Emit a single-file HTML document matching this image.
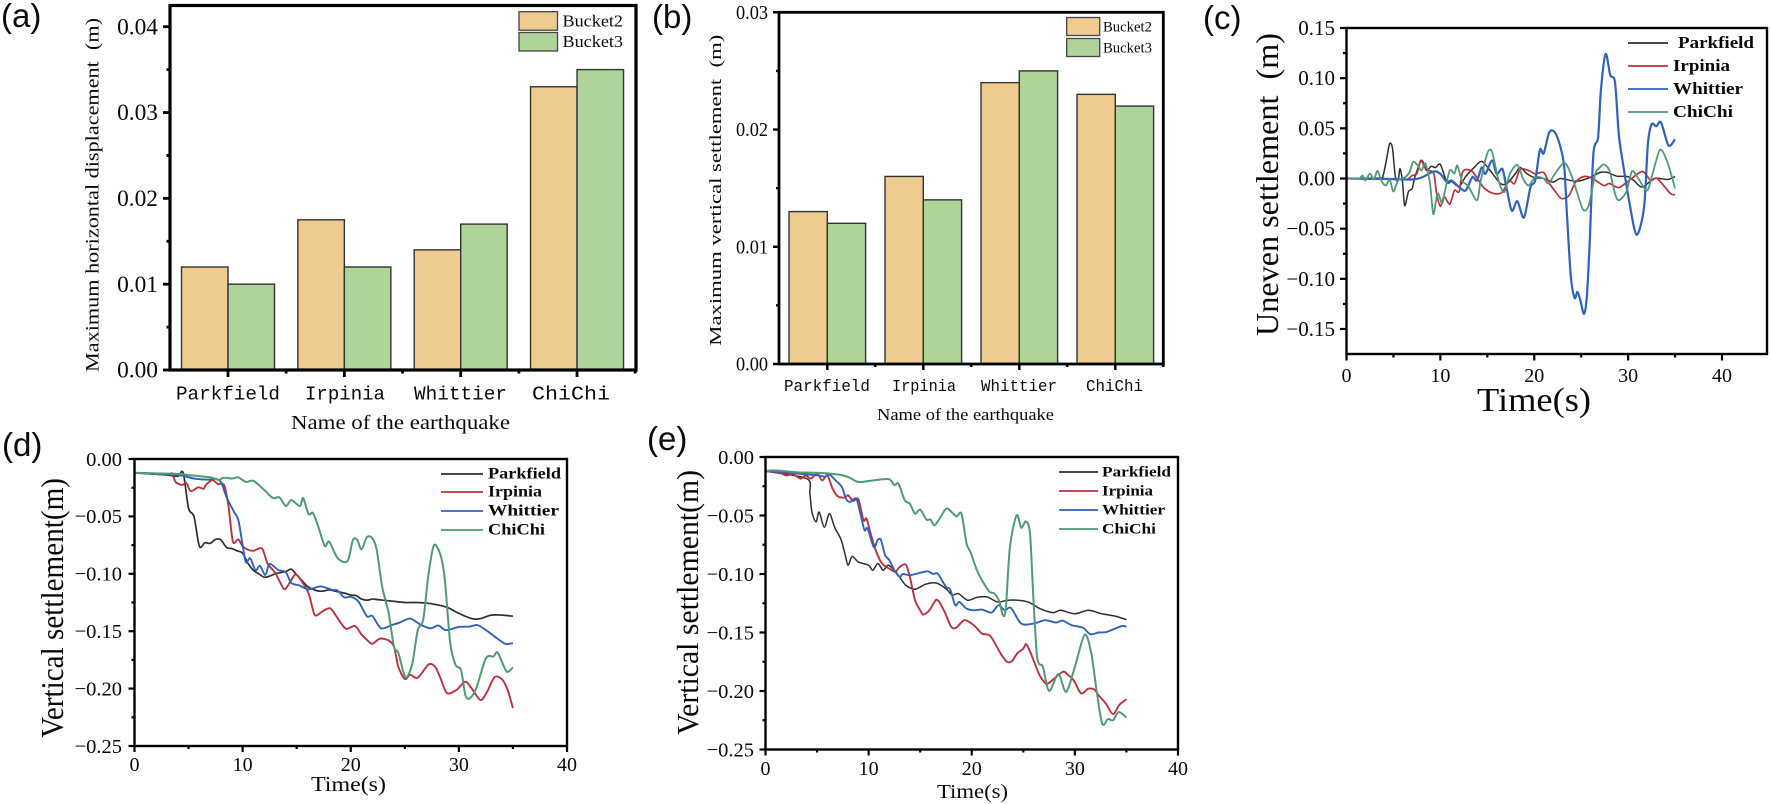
<!DOCTYPE html>
<html lang="en">
<head>
<meta charset="utf-8">
<title>Earthquake settlement charts</title>
<style>
html,body{margin:0;padding:0;background:#fff;}
body{width:1772px;height:804px;overflow:hidden;}
svg{display:block;filter:blur(0.35px);}
text{font-family:"Liberation Serif",serif;fill:#0a0a0a;}
</style>
</head>
<body>
<svg id="figure" xmlns="http://www.w3.org/2000/svg" width="1772" height="804" viewBox="0 0 1772 804"></svg>
<script>
/* ---------- bar chart data (metres) ---------- */
const barCategories = ['Parkfield', 'Irpinia', 'Whittier', 'ChiChi'];
const aBucket2 = [0.012, 0.0175, 0.014, 0.033];
const aBucket3 = [0.010, 0.012, 0.017, 0.035];
const bBucket2 = [0.013, 0.016, 0.024, 0.023];
const bBucket3 = [0.012, 0.014, 0.025, 0.022];
const aYTicks = [0, 0.01, 0.02, 0.03, 0.04];
const aYLabels = ['0.00', '0.01', '0.02', '0.03', '0.04'];
const aYMinor = [0.005, 0.015, 0.025, 0.035];
const bYTicks = [0, 0.01, 0.02, 0.03];
const bYLabels = ['0.00', '0.01', '0.02', '0.03'];
const bYMinor = [0.005, 0.015, 0.025];

/* ---------- shared line chart axis labels ---------- */
const seriesNames = ['Parkfield', 'Irpinia', 'Whittier', 'ChiChi'];
const timeTicks = [0, 10, 20, 30, 40];
const timeMinor = [5, 15, 25, 35];
const cYTicks = [0.15, 0.10, 0.05, 0, -0.05, -0.10, -0.15];
const cYLabels = ['0.15', '0.10', '0.05', '0.00', '\u22120.05', '\u22120.10', '\u22120.15'];
const cYMinor = [0.125, 0.075, 0.025, -0.025, -0.075, -0.125];
const settleYTicks = [0, -0.05, -0.10, -0.15, -0.20, -0.25];
const settleYLabels = ['0.00', '\u22120.05', '\u22120.10', '\u22120.15', '\u22120.20', '\u22120.25'];
const settleYMinor = [-0.025, -0.075, -0.125, -0.175, -0.225];

/* ---------- (c) uneven settlement, millimetres ---------- */
const cParkfieldT = [0,3.5,3.9,4.3,4.6, 4.9,5.2,5.5,5.7,5.95, 6.2,6.6,7,7.3,8, 8.5,9,9.5,10,10.7, 11.2,12,12.7,13.6,14.4, 15.3,16.4,17.1,18,18.5, 19.2,20,21,22,22.8, 24.2,25,26,27,27.8, 28.8,29.9,30.6,31.5,32.8, 34.2,35];
const cParkfieldV = [0,0.5,3,21,35, 30,2,-2,10,-2, -27,-13,-10,2,18, 8,12,11,14,-4, -3,-8,2,11,17, 8,-5,-5,5,11, 5,1,0,-3.6,0, -2.6,-2,1.3,6,6, 2.3,2,-2,-8.6,0, -1,2];
const cIrpiniaT = [0,6,6.5,7,7.5, 7.9,8.3,8.8,9.3,9.6, 10,10.4,11,11.5,12, 12.4,13.4,14.6,15.7,16.6, 17.3,17.9,18.5,19.4,20.1, 21,21.6,22.3,22.9,23.7, 24.4,25.3,26.2,27.4,28, 29,30.1,31.5,32.4,33.1, 34.5,35];
const cIrpiniaV = [0,-1,-1,3,5, 18,12,8,5,-15, -27.6,-18,-25.6,-12,-13, 7,7,-9,-15,-13.6, -2,-5,9,8,4.6, 6,-4.6,-13.6,-20,-17, -3.6,2,0,-7,-5, -9,-2,7,-2,0, -15,-16];
const cWhittierT = [0,5,7,8,9.3, 10,10.7,11.2,12,12.7, 13.4,13.9,14.4,14.8,15.5, 16,16.6,17,17.6,18.2, 18.9,19.6,20.1,20.6,21, 21.6,22.2,22.8,23.2,23.5, 23.9,24.3,24.6,24.9,25.3, 25.6,25.9,26.3,26.8,27.1, 27.6,28.1,28.6,29,29.4, 30.1,30.9,31.7,32.1,32.5, 33,33.5,34.3,35];
const cWhittierV = [0,-0.5,-1,1,7, 4.6,-3.6,-2,-8.6,-12, 1.3,-2,11,4.6,18, 4.6,9.6,-7,-32,-22.6, -39,-8.6,-2,28.6,25, 46,46,31,11,-38.6, -98,-119,-113,-121,-135, -118,-65,24.6,41,88, 124,103,96,44.5,18, -22,-56,-28.6,34,54, 52,56,33,39];
const cChiChiT = [0,1,1.4,1.7,2, 2.5,2.9,3.3,3.7,4.2, 4.6,5,5.5,6.2,6.7, 7.1,7.6,8,8.4,8.9, 9.25,9.7,10.2,10.5,11, 11.5,11.8,12.3,13,13.9, 14.3,15,15.5,16.2,16.8, 17.4,18.2,18.8,19.4,20.1, 21,21.5,22.2,23.2,23.9, 24.5,25.2,25.8,26.5,27, 27.4,28,28.6,29,29.8, 30.4,31,32,32.6,33.4, 34.2,35];
const cChiChiV = [0,0,0,3,-2, 5,-1,7.6,-2,-7, -1,-13,-2,1,6, 16.6,13,8,15,-5, -35.6,-15,-25,-12,8, 5,13,-2,-8,-21.6, -2,25,26.6,-2,-13.6, 4.6,13.6,0,-7,1.3, 0,-5,4.6,15.6,4.6, -12,-31,-27,4.6,11, 14,8,-15,-21.6,-13.6, 7,1.3,-12,4.6,28.6, 16,-10];

/* ---------- (d) vertical settlement, millimetres ---------- */
const dParkfieldT = [0,3,4,4.5,5, 5.5,6,6.5,7,7.5, 8,8.5,9,9.5,10, 10.5,11,11.5,12,12.5, 13,13.5,14,14.5,15, 15.5,16,16.5,17,17.5, 18,18.5,19,19.5,20, 20.5,21,21.5,22,22.5, 23,24,25,26,27, 28,29,30,31,31.5, 32,33,34,35];
const dParkfieldV = [-12,-14,-15,-12,-43, -50,-76,-73,-73.5,-70, -70.5,-77,-78,-80,-82, -91,-97,-100,-103,-102, -100,-99,-98,-96,-101, -106,-111,-113.5,-115,-115, -114,-115,-116,-117,-118.5, -119,-122,-123,-122,-122.5, -123,-124,-125,-125,-125.5, -127,-129.5,-134.5,-138.5,-139.5, -139,-136,-136,-137];
const dIrpiniaT = [0,3,3.5,3.8,4.4, 4.8,5.2,5.9,6.4,6.6, 7.2,7.7,8.3,8.7,9.1, 9.6,10,10.5,11,11.8, 12.3,13,13.5,13.9,14.4, 14.9,15.5,16.1,16.6,16.9, 17.5,18.1,18.6,19.1,19.6, 20.4,21,21.6,22,22.7, 23.5,24,24.4,25,25.5, 26.2,27.2,27.8,28.3,28.9, 29.8,30.6,31.2,32,32.6, 33.3,34,34.5,35];
const dIrpiniaV = [-12,-13.5,-12.5,-20,-22.6, -21,-28,-24.7,-26,-22.6, -18.3,-21.8,-23,-41.5,-72, -70,-76,-79,-80,-78, -91,-99,-108,-113.5,-107, -100.5,-107,-117,-134.5,-136, -132,-130,-136,-143,-148, -145.5,-153,-158.5,-161,-156.5, -158,-163.5,-181,-191.6,-188, -190.5,-179,-181,-191,-204, -201,-194,-200,-210,-203, -190,-192,-201,-217];
const dWhittierT = [0,4,5.5,7,7.4, 8,8.5,9.2,9.6,10, 10.3,10.7,11.2,11.6,12.1, 12.5,13.3,14,14.5,15.2, 16.1,17.2,18.3,18.8,19.4, 20,20.7,21.5,22,22.8, 23.8,24.5,25.5,26.5,27.4, 28.1,28.8,30,31,31.7, 32.5,33.5,34.3,35];
const dWhittierV = [-12,-14,-17,-18,-17, -20,-33,-46,-53,-75, -90,-86.5,-97,-93,-101, -91.5,-96.7,-98.7,-108,-110, -113.5,-111,-114,-114.7,-120.5, -120,-124,-137,-136.7,-147.5, -144.6,-142.6,-139,-144.6,-147.5, -145,-149,-146.3,-146,-144.6, -149,-156,-161,-160.5];
const dChiChiT = [0,4,5,7,7.8, 8.2,9,9.6,10.3,11, 12,12.8,13.4,14,14.5, 15.3,15.6,16.1,16.5,17, 17.6,18,18.8,19.7,20.2, 20.6,21,21.5,22,22.4, 22.9,23.5,24,24.4,24.9, 25.2,25.7,26.2,26.7,27.2, 27.7,28.3,28.7,29.2,29.7, 30.2,30.6,31,31.6,32.5, 33.2,33.6,34.4,35];
const dChiChiV = [-12,-13,-14,-16,-18.3, -16.3,-17,-16,-20,-19, -27,-34,-33.4,-41,-35.7, -41,-34,-48,-47,-59, -75.8,-72,-86.5,-89,-70.5, -70.5,-78.7,-68,-69,-79, -111,-134,-163.5,-168.7,-186.7, -190,-178,-149,-140,-99.6, -75,-83.6,-105,-160.5,-179.4, -183.8,-205.6,-208.5,-199.8,-173.6, -172,-168.7,-185,-181.5];

/* ---------- (e) vertical settlement, millimetres ---------- */
const eParkfieldT = [0,4,4.3,4.5,4.9, 5.2,5.7,6.2,6.7,7.3, 7.7,8,8.4,9,10, 10.4,10.9,11.4,11.9,12.5, 13,13.6,14.5,15.5,16.5, 17.5,18.1,18.7,19.6,20.5, 21.5,22.5,23.5,24.5,25.5, 26.6,27.9,28.6,30,31.3, 32.6,33.9,35];
const eParkfieldV = [-12,-18.5,-31,-47,-55.5, -47,-60,-48.4,-60,-70, -82.6,-92.5,-84.9,-89.7,-92.5, -96.8,-91,-96.8,-92.5,-96.8, -102.5,-109.6,-113,-108.8,-107.6, -112.5,-118,-116.7,-122.4,-120, -119.6,-123.9,-122.4,-122.4,-124, -129.5,-133,-131,-134,-131, -134,-136,-139];
const eIrpiniaT = [0,1.5,2,2.7,3.4, 3.9,4.4,5,5.5,6, 6.5,7,7.7,8,8.5, 9,9.5,9.8,10.2,10.7, 11.3,12,12.6,13,13.6, 14,14.5,15,15.3,15.9, 16.6,17.3,18,18.5,19.3, 20.2,21,21.8,22.8,23.4, 23.9,24.4,25,25.3,25.8, 26.5,27,27.4,28.8,29.3, 29.9,30.6,31.3,31.9,32.3, 33,33.7,34.3,35];
const eIrpiniaV = [-12,-14,-15.7,-15,-18.5, -15.7,-18.5,-14,-20,-15.7, -27,-33.6,-34.7,-32.7,-37.6, -36,-54,-52.7,-65.5,-80, -91,-95.4,-98,-94,-92, -102.5,-122.4,-131,-134.7,-131, -122,-131,-145,-145.8,-139.5, -143.8,-151,-153,-168,-175, -174.5,-168,-163.7,-160,-169.4, -185,-192,-193.6,-183.7,-186, -191,-202,-198,-198.8,-203.6, -210.7,-219.8,-212,-207];
const eWhittierT = [0,5,5.7,6.2,6.8, 7.4,7.8,8.2,8.8,9.2, 9.6,9.9,10.5,10.9,11.2, 11.6,12,12.5,13,13.3, 14,15,15.7,16.3,16.7, 17.5,17.9,18.4,18.8,19.5, 20.2,21,21.9,22.6,23.2, 23.8,24.8,26,27.1,28.2, 28.8,29.7,30.8,31.5,32.3, 33.1,34.5,35];
const eWhittierV = [-12,-15.6,-17,-15,-20, -25.6,-35.6,-38.4,-35.6,-48.4, -62.6,-61,-77,-70.6,-71, -84,-88,-96.8,-102.5,-100, -101,-99,-97.7,-100,-99.7, -111,-113,-126.7,-123.9,-129.6, -131,-130.4,-133,-126.7,-131, -129,-142.4,-142.4,-139.5,-141.5, -139.8,-143.8,-146,-151.5,-150, -149.5,-144.6,-145];
const eChiChiT = [0,1,3,5,7, 8,9,10,11,12, 12.5,12.9,13.5,14,14.5, 15,15.6,16,16.4,17, 17.6,18.5,19,19.5,19.9, 20.5,21,21.7,22.2,22.7, 23,23.3,23.7,24.35,24.8, 25.25,25.65,25.97,26.3,26.55, 26.9,27.5,28.4,29.15,30, 30.95,31.6,32.1,32.65,33.2, 33.7,34.25,35];
const eChiChiV = [-12,-11.5,-13,-13.5,-15, -17,-21.4,-20.5,-19.4,-19, -24,-22.8,-37,-40,-48.4, -45,-53.5,-53.5,-58.4,-51, -43.9,-50.7,-48.4,-74,-81.7, -96.8,-105.4,-115,-116.7,-123.9, -135,-130,-77,-49.8,-60.4, -55,-65.5,-119.6,-168,-177, -179.4,-200,-185.6,-200.7,-179.4, -151.8,-168,-199.3,-228,-224, -225,-218,-222.7];

/* ---------- drawing helpers ---------- */
const NS = 'http://www.w3.org/2000/svg';
const root = document.getElementById('figure');
const INK = '#000';
const ORANGE = '#eecb8f';
const GREEN = '#aed49a';
const LINE_COLORS = ['#2e2e2e', '#b8323f', '#2f62b8', '#4f9a74'];

function add(parent, tag, attrs) {
  const el = document.createElementNS(NS, tag);
  for (const k in attrs) el.setAttribute(k, attrs[k]);
  parent.appendChild(el);
  return el;
}
function write(parent, str, x, y, size, opts) {
  const o = opts || {};
  const attrs = {x: x, y: y, 'font-size': size};
  if (o.anchor) attrs['text-anchor'] = o.anchor;
  if (o.weight) attrs['font-weight'] = o.weight;
  if (o.family) attrs['style'] = 'font-family:' + o.family;
  if (o.length) { attrs['textLength'] = o.length; attrs['lengthAdjust'] = 'spacingAndGlyphs'; }
  if (o.rotate) attrs['transform'] = 'rotate(-90 ' + x + ' ' + y + ')';
  const el = add(parent, 'text', attrs);
  el.textContent = str;
  return el;
}
function linear(d0, d1, r0, r1) {
  return function (v) { return r0 + (v - d0) * (r1 - r0) / (d1 - d0); };
}
function smoothPath(pts) {
  let d = 'M' + pts[0][0].toFixed(2) + ' ' + pts[0][1].toFixed(2);
  for (let i = 0; i < pts.length - 1; i++) {
    const p0 = pts[Math.max(i - 1, 0)], p1 = pts[i], p2 = pts[i + 1], p3 = pts[Math.min(i + 2, pts.length - 1)];
    const k = 1 / 7;
    d += 'C' + (p1[0] + (p2[0] - p0[0]) * k).toFixed(2) + ' ' + (p1[1] + (p2[1] - p0[1]) * k).toFixed(2) +
         ' ' + (p2[0] - (p3[0] - p1[0]) * k).toFixed(2) + ' ' + (p2[1] - (p3[1] - p1[1]) * k).toFixed(2) +
         ' ' + p2[0].toFixed(2) + ' ' + p2[1].toFixed(2);
  }
  return d;
}
function yTicks(g, box, y, values, labels, minor, fontSize, labelGap, labelLength) {
  values.forEach(function (v, i) {
    const t = add(g, 'line', {x1: box.left - box.major, x2: box.left, y1: y(v), y2: y(v), stroke: INK, 'stroke-width': box.tickW});
    
    
    const lab = write(g, labels[i], box.left - labelGap, y(v) + fontSize * 0.33, fontSize, {anchor: 'end', length: labelLength});
    
    
  });
  minor.forEach(function (v) {
    const t = add(g, 'line', {x1: box.left - box.minor, x2: box.left, y1: y(v), y2: y(v), stroke: INK, 'stroke-width': box.tickW});
    
    
  });
}
function frame(g, box) {
  const r = add(g, 'rect', {x: box.left, y: box.top, width: box.right - box.left, height: box.bottom - box.top, fill: 'none', stroke: INK, 'stroke-width': box.lw});
  
  
}
function panelLabel(str, x, y, name) {
  const t = write(root, str, x, y, 33, {family: '"Liberation Sans",sans-serif'});
  
  
}

/* ---------- bar panels ---------- */
function drawBars(cfg) {
  const g = add(root, 'g', {});
  
  
  const box = cfg.box;
  const y = linear(cfg.yDomain[0], cfg.yDomain[1], box.bottom, cfg.yTop);
  const x = function (i) { return cfg.firstCenter + i * cfg.step; };
  barCategories.forEach(function (cat, i) {
    const b2 = add(g, 'rect', {x: x(i) - cfg.barW, y: y(cfg.s2[i]), width: cfg.barW, height: box.bottom - y(cfg.s2[i]), fill: ORANGE, stroke: '#333', 'stroke-width': 1.4});
    
    
    const b3 = add(g, 'rect', {x: x(i), y: y(cfg.s3[i]), width: cfg.barW, height: box.bottom - y(cfg.s3[i]), fill: GREEN, stroke: '#333', 'stroke-width': 1.4});
    
    
    const t = add(g, 'line', {x1: x(i), x2: x(i), y1: box.bottom, y2: box.bottom + box.major, stroke: INK, 'stroke-width': box.tickW});
    
    
    const mx = x(i) + cfg.step / 2;
    const m = add(g, 'line', {x1: mx, x2: mx, y1: box.bottom, y2: box.bottom + box.minor, stroke: INK, 'stroke-width': box.tickW});
    
    
    const l = write(g, cat, cfg.catX[i][0], cfg.catY, cfg.catSize, {family: '"Liberation Mono",monospace', length: cfg.catX[i][1]});
    
    
  });
  frame(g, box);
  yTicks(g, box, y, cfg.ticks, cfg.labels, cfg.minorTicks, cfg.tickSize, cfg.tickGap, cfg.tickLength);
  const yt = write(g, cfg.yTitle, cfg.yTitleX, cfg.yTitleY, cfg.yTitleSize, {rotate: true, length: cfg.yTitleLen});
  
  
  const xt = write(g, 'Name of the earthquake', cfg.xTitleX, cfg.xTitleY, cfg.xTitleSize, {length: cfg.xTitleLen});
  
  
  [['Bucket2', ORANGE], ['Bucket3', GREEN]].forEach(function (entry, i) {
    const s = add(g, 'rect', {x: cfg.legend.x, y: cfg.legend.ys[i], width: cfg.legend.w, height: cfg.legend.h, fill: entry[1], stroke: '#444', 'stroke-width': 1.3});
    
    
    const t = write(g, entry[0], cfg.legend.textX, cfg.legend.ys[i] + cfg.legend.h / 2 + cfg.legend.size * 0.32, cfg.legend.size, {length: cfg.legend.textW});
    
    
  });
}

/* ---------- line panels ---------- */
function drawLines(cfg) {
  const g = add(root, 'g', {});
  
  
  const box = cfg.box;
  const x = linear(0, 40, box.left, cfg.x40);
  const y = linear(cfg.yMap[0], cfg.yMap[1], cfg.yMap[2], cfg.yMap[3]);
  cfg.series.forEach(function (s, i) {
    const n = Math.min(s[0].length, s[1].length);
    const pts = [];
    for (let k = 0; k < n; k++) pts.push([x(s[0][k]), y(s[1][k] / 1000)]);
    const p = add(g, 'path', {d: smoothPath(pts), fill: 'none', stroke: LINE_COLORS[i], 'stroke-width': cfg.widths[i], 'stroke-linejoin': 'round'});
    
    
  });
  frame(g, box);
  yTicks(g, box, y, cfg.ticks, cfg.labels, cfg.minorTicks, cfg.tickSize, cfg.tickGap);
  timeTicks.forEach(function (v) {
    const t = add(g, 'line', {x1: x(v), x2: x(v), y1: box.bottom, y2: box.bottom + box.major, stroke: INK, 'stroke-width': box.tickW});
    
    
    const l = write(g, String(v), x(v), cfg.xLabelY, cfg.xLabelSize, {anchor: 'middle'});
    
    
  });
  timeMinor.forEach(function (v) {
    const t = add(g, 'line', {x1: x(v), x2: x(v), y1: box.bottom, y2: box.bottom + box.minor, stroke: INK, 'stroke-width': box.tickW});
    
    
  });
  const yt = write(g, cfg.yTitle, cfg.yTitleX, cfg.yTitleY, cfg.yTitleSize, {rotate: true, length: cfg.yTitleLen});
  
  
  const xt = write(g, 'Time(s)', cfg.xTitleX, cfg.xTitleBase, cfg.xTitleSize, {length: cfg.xTitleLen});
  
  
  seriesNames.forEach(function (name, i) {
    const ly = cfg.legend.ys[i];
    const ln = add(g, 'line', {x1: cfg.legend.x1, x2: cfg.legend.x2, y1: ly, y2: ly, stroke: LINE_COLORS[i], 'stroke-width': 1.8});
    
    
    const t = write(g, name, cfg.legend.textX[i], ly + cfg.legend.size * 0.3, cfg.legend.size, {weight: 'bold', length: cfg.legend.textW[i]});
    
    
  });
}

/* ---------- panels ---------- */
drawBars({
  name: 'panel-a-horizontal-displacement',
  box: {left: 170, right: 636, top: 5.5, bottom: 370, lw: 3.2, tickW: 2.8, major: 7, minor: 3.5},
  yDomain: [0, 0.04], yTop: 26.7,
  firstCenter: 228, step: 116.35, barW: 46.5,
  s2: aBucket2, s3: aBucket3,
  ticks: aYTicks, labels: aYLabels, minorTicks: aYMinor,
  tickSize: 23.4, tickGap: 12,
  catX: [[176, 104], [305, 80], [414, 93], [532, 78]], catY: 399.5, catSize: 19,
  yTitle: 'Maximum horizontal displacement\u00a0\u00a0(m)', yTitleX: 98.5, yTitleY: 372, yTitleSize: 18.5, yTitleLen: 354,
  xTitleX: 291, xTitleY: 429, xTitleSize: 20, xTitleLen: 219,
  legend: {x: 519, w: 38.5, h: 18.5, ys: [11.7, 32.5], textX: 562.5, textW: 60.5, size: 17}
});
drawBars({
  name: 'panel-b-vertical-settlement',
  box: {left: 779, right: 1163.3, top: 12.3, bottom: 364, lw: 2.8, tickW: 2.4, major: 6, minor: 3},
  yDomain: [0, 0.03], yTop: 12.3,
  firstCenter: 827.3, step: 96, barW: 38.3,
  s2: bBucket2, s3: bBucket3,
  ticks: bYTicks, labels: bYLabels, minorTicks: bYMinor,
  tickSize: 20, tickGap: 11, tickLength: 32,
  catX: [[784, 86], [892, 64], [981, 76], [1086, 57]], catY: 391, catSize: 16.5,
  yTitle: 'Maximum vertical settlement\u00a0\u00a0(m)', yTitleX: 721, yTitleY: 345.7, yTitleSize: 17, yTitleLen: 311,
  xTitleX: 877, xTitleY: 420, xTitleSize: 17, xTitleLen: 177,
  legend: {x: 1066.7, w: 33, h: 18, ys: [17.5, 38.5], textX: 1103, textW: 49, size: 15}
});
drawLines({
  name: 'panel-c-uneven-settlement',
  box: {left: 1346.5, right: 1767, top: 28, bottom: 354, lw: 2.4, tickW: 2.2, major: 6.5, minor: 3.5},
  x40: 1722, yMap: [0.15, -0.15, 28, 329],
  series: [[cParkfieldT, cParkfieldV], [cIrpiniaT, cIrpiniaV], [cWhittierT, cWhittierV], [cChiChiT, cChiChiV]],
  widths: [1.5, 1.7, 2.2, 1.8],
  ticks: cYTicks, labels: cYLabels, minorTicks: cYMinor, tickSize: 21, tickGap: 11.5,
  xLabelY: 382, xLabelSize: 20,
  yTitle: 'Uneven settlement\u00a0\u00a0(m)', yTitleX: 1278, yTitleY: 336, yTitleSize: 32, yTitleLen: 303,
  xTitleX: 1477, xTitleBase: 411, xTitleSize: 34, xTitleLen: 114,
  legend: {x1: 1628, x2: 1668, ys: [43, 66, 89, 112], textX: [1678, 1673, 1673, 1673], textW: [76, 57, 70, 60], size: 17}
});
drawLines({
  name: 'panel-d-vertical-settlement',
  box: {left: 134.5, right: 567, top: 459, bottom: 746, lw: 2.4, tickW: 2.2, major: 6, minor: 3},
  x40: 567, yMap: [0, -0.25, 459, 746],
  series: [[dParkfieldT, dParkfieldV], [dIrpiniaT, dIrpiniaV], [dWhittierT, dWhittierV], [dChiChiT, dChiChiV]],
  widths: [1.7, 1.9, 1.9, 2],
  ticks: settleYTicks, labels: settleYLabels, minorTicks: settleYMinor, tickSize: 20.5, tickGap: 12.5,
  xLabelY: 771, xLabelSize: 20,
  yTitle: 'Vertical settlement(m)', yTitleX: 63, yTitleY: 738, yTitleSize: 32, yTitleLen: 260,
  xTitleX: 311, xTitleBase: 791, xTitleSize: 21, xTitleLen: 75,
  legend: {x1: 441, x2: 483, ys: [474, 492, 511, 530], textX: [488, 488, 488, 488], textW: [73, 54, 71, 57], size: 15.5}
});
drawLines({
  name: 'panel-e-vertical-settlement',
  box: {left: 765.5, right: 1178, top: 457, bottom: 749.5, lw: 2.4, tickW: 2.2, major: 6, minor: 3},
  x40: 1178, yMap: [0, -0.25, 457, 749.5],
  series: [[eParkfieldT, eParkfieldV], [eIrpiniaT, eIrpiniaV], [eWhittierT, eWhittierV], [eChiChiT, eChiChiV]],
  widths: [1.5, 1.9, 1.9, 2],
  ticks: settleYTicks, labels: settleYLabels, minorTicks: settleYMinor, tickSize: 20.5, tickGap: 11.5,
  xLabelY: 775, xLabelSize: 20,
  yTitle: 'Vertical settlement(m)', yTitleX: 698, yTitleY: 735, yTitleSize: 31, yTitleLen: 265,
  xTitleX: 937, xTitleBase: 798, xTitleSize: 20, xTitleLen: 71,
  legend: {x1: 1059, x2: 1098, ys: [472, 491, 510, 529], textX: [1102, 1102, 1102, 1102], textW: [69, 51, 63, 54], size: 15}
});

panelLabel('(a)', 1, 27, 'panel-label-a');
panelLabel('(b)', 652, 28, 'panel-label-b');
panelLabel('(c)', 1203, 29, 'panel-label-c');
panelLabel('(d)', 2, 456, 'panel-label-d');
panelLabel('(e)', 647, 450, 'panel-label-e');
</script>
</body>
</html>
